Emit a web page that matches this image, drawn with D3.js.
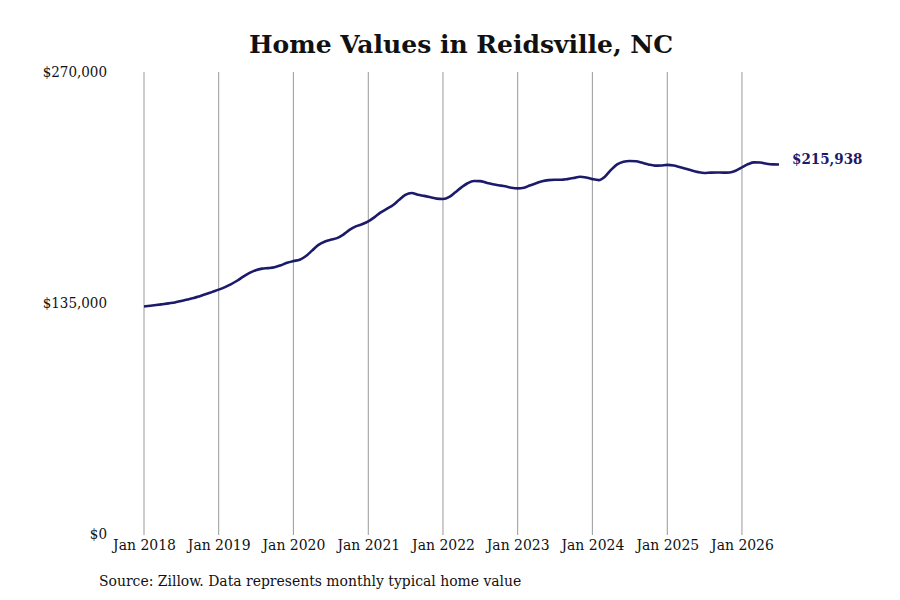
<!DOCTYPE html>
<html>
<head>
<meta charset="utf-8">
<script src="https://cdn.jsdelivr.net/npm/d3@7"></script>
<style>
  body { margin: 0; background: #fff; }
  text { font-family: "DejaVu Serif Condensed", "DejaVu Serif", serif; }
</style>
</head>
<body>
<div id="chart"></div>
<script>
// Monthly typical home value, Jan 2018 .. Jul 2026
let startMonth = '2018-01'
let homeValues = [
  133000, 133400, 133800, 134300, 134800, 135300, 136200, 137000, 137900, 139000, 140200, 141500,
  142800, 144300, 145900, 148000, 150400, 152600, 154200, 155100, 155400, 155900, 157100, 158500,
  159500, 160300, 162300, 165600, 168800, 170800, 171900, 172900, 175000, 177700, 179800, 181000,
  182700, 185200, 187800, 190000, 192100, 195300, 198200, 199300, 198300, 197600, 196800, 196000,
  195800, 197000, 199600, 202600, 205000, 206300, 206200, 205300, 204400, 203800, 203200, 202400,
  202000, 202400, 203700, 205000, 206200, 206800, 207000, 207000, 207400, 208000, 208800, 208400,
  207400, 206800, 208700, 212800, 216000, 217600, 218000, 217800, 216900, 216000, 215300, 215400,
  215700, 215400, 214500, 213500, 212400, 211500, 211000, 211200, 211300, 211200, 211300, 212300,
  214300, 216200, 217200, 217100, 216400, 216000, 215938
]
let yTicks = [0, 135000, 270000]
let xTickYears = [2018, 2019, 2020, 2021, 2022, 2023, 2024, 2025, 2026]

let width = 900
let height = 600
let lineColor = '#1c1a6b'
let labelFont = '"DejaVu Serif Condensed", "DejaVu Serif", serif'

let parseMonth = d3.timeParse('%Y-%m')
let t0 = parseMonth(startMonth)
let data = homeValues.map((v, i) => ({ date: d3.timeMonth.offset(t0, i), value: v }))

let svg = d3.select('#chart').append('svg')
  .attr('width', width)
  .attr('height', height)

let x = d3.scaleTime()
  .domain([data[0].date, data[data.length - 1].date])
  .range([144, 779])

let y = d3.scaleLinear()
  .domain([0, 270000])
  .range([534, 72])

// title
svg.append('text')
  .attr('x', 461)
  .attr('y', 53)
  .attr('text-anchor', 'middle')
  .style('font-family', '"DejaVu Serif", serif')
  .style('font-weight', 'bold')
  .style('font-size', '25px')
  .attr('fill', '#111')
  .text('Home Values in Reidsville, NC')

// vertical grid lines at each January
let xTickDates = xTickYears.map(yr => new Date(yr, 0, 1))
svg.append('g')
  .selectAll('line')
  .data(xTickDates)
  .join('line')
  .attr('x1', d => x(d))
  .attr('x2', d => x(d))
  .attr('y1', y(270000))
  .attr('y2', y(0) + 1)
  .attr('stroke', '#999')
  .attr('stroke-width', 1)

// x axis labels
let xAxis = d3.axisBottom(x)
  .tickValues(xTickDates)
  .tickFormat(d3.timeFormat('Jan %Y'))
  .tickSize(0)
  .tickPadding(5)
let gx = svg.append('g')
  .attr('transform', `translate(0,${y(0)})`)
  .call(xAxis)
gx.select('.domain').remove()
gx.selectAll('text')
  .style('font-family', labelFont)
  .style('font-size', '15.5px')
  .attr('fill', '#111')

// y axis labels
let yAxis = d3.axisLeft(y)
  .tickValues(yTicks)
  .tickFormat(d => '$' + d3.format(',')(d))
  .tickSize(0)
  .tickPadding(0)
let gy = svg.append('g')
  .attr('transform', 'translate(107,0)')
  .call(yAxis)
gy.select('.domain').remove()
gy.selectAll('text')
  .style('font-family', labelFont)
  .style('font-size', '15px')
  .attr('fill', '#111')

// the line
let line = d3.line()
  .x(d => x(d.date))
  .y(d => y(d.value))
  .curve(d3.curveMonotoneX)

svg.append('path')
  .datum(data)
  .attr('d', line)
  .attr('fill', 'none')
  .attr('stroke', lineColor)
  .attr('stroke-width', 2.6)
  .attr('stroke-linejoin', 'round')

// end label
let last = data[data.length - 1]
svg.append('text')
  .attr('x', x(last.date) + 13)
  .attr('y', y(last.value) - 5)
  .attr('dy', '0.32em')
  .style('font-family', labelFont)
  .style('font-weight', 'bold')
  .style('font-size', '15px')
  .attr('fill', lineColor)
  .text('$' + d3.format(',')(last.value))

// source note
svg.append('text')
  .attr('x', 99)
  .attr('y', 586)
  .style('font-family', labelFont)
  .style('font-size', '15.5px')
  .attr('fill', '#111')
  .text('Source: Zillow. Data represents monthly typical home value')
</script>
</body>
</html>
